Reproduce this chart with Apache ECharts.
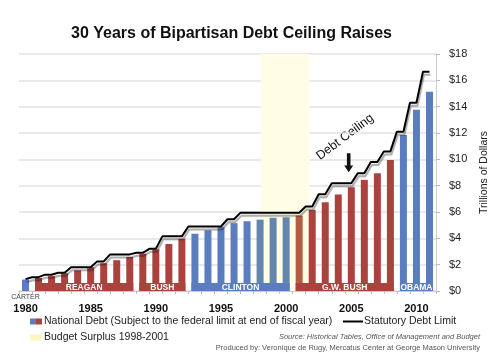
<!DOCTYPE html>
<html>
<head>
<meta charset="utf-8">
<script src="https://cdn.jsdelivr.net/npm/echarts@6/dist/echarts.min.js"></script>
<style>html,body{margin:0;padding:0;background:#fff}#c{width:500px;height:360px}</style>
</head>
<body>
<div id="c"></div>
<script>
// ---- data ----
var years = [1980,1981,1982,1983,1984,1985,1986,1987,1988,1989,1990,1991,1992,1993,1994,1995,
             1996,1997,1998,1999,2000,2001,2002,2003,2004,2005,2006,2007,2008,2009,2010,2011];
var debt = [0.87,0.99,1.13,1.35,1.57,1.81,2.11,2.34,2.58,2.83,3.16,3.57,3.97,4.35,4.61,4.85,
            5.15,5.30,5.42,5.56,5.60,5.73,6.16,6.74,7.33,7.88,8.44,8.94,9.95,11.85,13.76,15.13];
var debtLimit = [0.90,1.05,1.24,1.38,1.80,1.80,2.25,2.78,2.78,2.90,3.20,4.15,4.15,4.90,4.90,4.90,
                 5.45,5.95,5.95,5.95,5.95,5.95,6.42,7.35,8.18,8.18,8.95,9.80,10.60,12.10,14.30,16.65];
var presNames = ['CARTER','REAGAN','BUSH','CLINTON','G.W. BUSH','OBAMA'];
var presFrom  = [1980,1981,1989,1993,2001,2009];
var presTo    = [1980,1988,1992,2000,2008,2011];
var presParty = ['D','R','R','D','R','D'];
var surplusYears = [1998, 2001];
var surplusRange = [1998.05, 2001.8];
var arrowAt = [2004.8, 9.75];

// ---- styles ----
var BLUE = '#5A7DBF', RED = '#AA423E', YELLOW = '#FFFDE5';
var partyColor = {D: BLUE, R: RED};
var partyTint = {D: '#6586AC', R: '#B35E42'};
var BAR_W = 7, BAND_TOP = 0.6;
var FONT = 'Liberation Sans, Arial, sans-serif';

function partyOf(y) {
  for (var i = 0; i < presNames.length; i++) if (y >= presFrom[i] && y <= presTo[i]) return presParty[i];
  return 'D';
}
var barData = debt.map(function (v, i) {
  var y = years[i], p = partyOf(y);
  var inSurplus = y >= surplusYears[0] && y <= surplusYears[1];
  return { value: v, itemStyle: { color: inSurplus ? partyTint[p] : partyColor[p] } };
});
var linePts = [];
years.forEach(function (y, i) {
  if (i > 0) linePts.push([y - 0.5, debtLimit[i]]);
  linePts.push([y, debtLimit[i]]);
});
var bandData = presNames.map(function (n, i) {
  return [years.indexOf(presFrom[i]), years.indexOf(presTo[i]), n, partyColor[presParty[i]]];
});

var splitGrad = { type: 'linear', x: 0, y: 0, x2: 1, y2: 0, colorStops: [
  {offset: 0, color: BLUE}, {offset: 0.5, color: BLUE}, {offset: 0.5, color: RED}, {offset: 1, color: RED}] };

var NAME_DEBT = 'National Debt (Subject to the federal limit at end of fiscal year)';
var NAME_LIMIT = 'Statutory Debt Limit';
var NAME_SURPLUS = 'Budget Surplus 1998-2001';
var legendText = { fontFamily: FONT, fontSize: 10.5, color: '#222' };

var chart = echarts.init(document.getElementById('c'), null, {renderer: 'canvas'});
chart.setOption({
  animation: false,
  backgroundColor: '#fff',
  title: { text: '30 Years of Bipartisan Debt Ceiling Raises', left: 66, top: 21,
    textStyle: { fontFamily: FONT, fontSize: 16, fontWeight: 'bold', color: '#111' } },
  grid: { left: 19, right: 64, top: 54, bottom: 69 },
  legend: [
    { data: [{ name: NAME_DEBT, icon: 'rect', itemStyle: { color: splitGrad } }],
      left: 30, top: 316, padding: 0, itemWidth: 12, itemHeight: 6, selectedMode: false,
      textStyle: Object.assign({ padding: [0, 0, 0, -3] }, legendText) },
    { data: [{ name: NAME_LIMIT, icon: 'rect', itemStyle: { color: '#000' } }],
      left: 343, top: 316, padding: 0, itemWidth: 20, itemHeight: 2, selectedMode: false,
      textStyle: Object.assign({ padding: [0, 0, 0, -4] }, legendText) },
    { data: [{ name: NAME_SURPLUS, icon: 'rect', itemStyle: { color: '#FBF7BE' } }],
      left: 30, top: 332, padding: 0, itemWidth: 12, itemHeight: 6, selectedMode: false,
      textStyle: Object.assign({ padding: [0, 0, 0, -3] }, legendText) }
  ],
  xAxis: [
    { type: 'category', data: years, boundaryGap: true,
      axisLine: { show: true, lineStyle: { color: '#ccc' } },
      axisTick: { show: true, interval: 0, length: 3, lineStyle: { color: '#bbb' } },
      axisLabel: { interval: 4, margin: 12, fontFamily: FONT, fontSize: 11, fontWeight: 'bold', color: '#111' },
      splitLine: { show: false } },
    { type: 'value', min: years[0] - 0.5, max: years[years.length - 1] + 0.5, show: false, splitLine: {show: false} }
  ],
  yAxis: { type: 'value', position: 'right', min: 0, max: 18, interval: 2,
    name: 'Trillions of Dollars', nameLocation: 'middle', nameRotate: 90, nameGap: 40,
    nameTextStyle: { fontFamily: FONT, fontSize: 10.5, color: '#222' },
    axisLine: { show: true, lineStyle: { color: '#ccc' } },
    axisTick: { show: true, length: 4, lineStyle: { color: '#bbb' } },
    axisLabel: { margin: 13, fontFamily: FONT, fontSize: 11, color: '#222', formatter: function (v) { return '$' + v; } },
    splitLine: { lineStyle: { color: '#e2e2e2', width: 1.5 } } },
  series: [
    { name: NAME_SURPLUS, type: 'custom', xAxisIndex: 1, data: [surplusRange], z: 1, silent: true,
      itemStyle: { color: '#FBF7BE' },
      renderItem: function (params, api) {
        var p0 = api.coord([api.value(0), 18]);
        var p1 = api.coord([api.value(1), 0]);
        return { type: 'rect', shape: { x: p0[0], y: p0[1], width: p1[0] - p0[0], height: p1[1] - p0[1] },
          style: { fill: YELLOW } };
      } },
    { name: NAME_DEBT, type: 'bar', data: barData, barWidth: BAR_W, z: 2,
      itemStyle: { color: splitGrad } },
    { name: 'bands', type: 'custom', data: bandData, z: 3, silent: true,
      renderItem: function (params, api) {
        var a = api.coord([api.value(0), 0]);
        var b = api.coord([api.value(1), BAND_TOP]);
        var x0 = a[0] - BAR_W / 2, x1 = b[0] + BAR_W / 2;
        var name = api.value(2);
        var isSolo = api.value(0) === api.value(1);
        var children = [{ type: 'rect', shape: { x: x0, y: b[1], width: x1 - x0, height: a[1] - b[1] },
          style: { fill: bandData[params.dataIndex][3] } }];
        children.push({ type: 'text', style: {
          text: name, x: (x0 + x1) / 2, y: isSolo ? a[1] + 6 : (a[1] + b[1]) / 2 + 0.5,
          align: 'center', verticalAlign: 'middle',
          font: (isSolo ? 'normal 7px ' : 'bold 8.5px ') + FONT,
          fill: isSolo ? '#444' : '#fff' } });
        return { type: 'group', children: children };
      } },
    { name: NAME_LIMIT, type: 'line', xAxisIndex: 1, data: linePts, z: 6, symbol: 'none',
      lineStyle: { color: '#000', width: 2, shadowColor: 'rgba(0,0,0,0.35)', shadowBlur: 1, shadowOffsetX: 1, shadowOffsetY: 3 },
      itemStyle: { color: '#000' },
      markPoint: { silent: true, symbol: 'path://M3,0 H7 V11 H10 L5,17 L0,11 H3 Z', symbolSize: [9, 19],
        itemStyle: { color: '#111' }, label: { show: false },
        data: [{ coord: arrowAt }] } }
  ],
  graphic: [
    { type: 'text', x: 345, y: 137, rotation: 37 * Math.PI / 180,
      style: { text: 'Debt Ceiling', font: '12.5px ' + FONT, fill: '#111', align: 'center', verticalAlign: 'middle' } },
    { type: 'text', right: 20, top: 333,
      style: { text: 'Source: Historical Tables, Office of Management and Budget', font: 'italic 7.5px ' + FONT, fill: '#555' } },
    { type: 'text', right: 20, top: 344,
      style: { text: 'Produced by: Veronique de Rugy, Mercatus Center at George Mason University', font: '7.5px ' + FONT, fill: '#555' } }
  ]
});
</script>
</body>
</html>
